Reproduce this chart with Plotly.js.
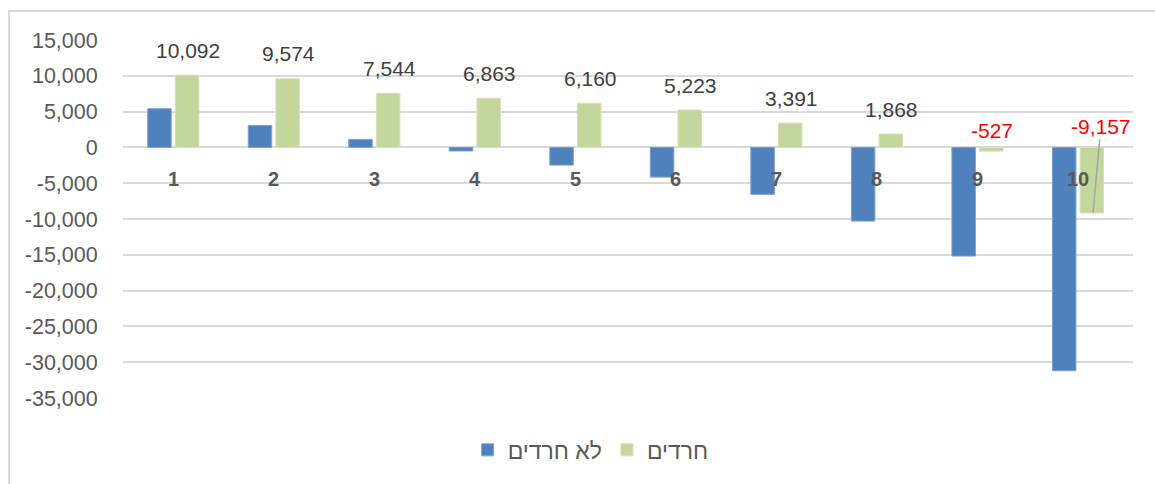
<!DOCTYPE html>
<html>
<head>
<meta charset="utf-8">
<script src="https://cdn.plot.ly/plotly-3.0.1.min.js"></script>
<style>
  html, body { margin: 0; padding: 0; background: #fff; }
  #wrap { position: relative; width: 1155px; height: 484px; overflow: hidden; }
  #chart { width: 1155px; height: 484px; }
  #frame { position: absolute; left: 8px; top: 10px; width: 1170px; height: 490px;
           border: 2px solid #d9d9d9; box-sizing: border-box; pointer-events: none; }
</style>
</head>
<body>
<div id="wrap">
  <div id="chart"></div>
  <div id="frame"></div>
</div>
<script>
// ---- data ----
const categories = ['1','2','3','4','5','6','7','8','9','10'];
const nonHaredi = [5400, 3070, 1120, -500, -2470, -4150, -6560, -10290, -15180, -31190];
const haredi = [10092, 9574, 7544, 6863, 6160, 5223, 3391, 1868, -527, -9157];
const seriesNames = ['לא חרדים', 'חרדים'];
const yTickVals = [15000, 10000, 5000, 0, -5000, -10000, -15000, -20000, -25000, -30000, -35000];
const yTickText = ['15,000', '10,000', '5,000', '0', '-5,000', '-10,000', '-15,000', '-20,000', '-25,000', '-30,000', '-35,000'];

const FONT = 'Liberation Sans, Arial, DejaVu Sans, sans-serif';

const traces = [
  { type: 'bar', x: categories, y: nonHaredi, name: seriesNames[0],
    marker: { color: '#4f81bd', line: { color: '#7ba0cf', width: 1 } }, hoverinfo: 'skip' },
  { type: 'bar', x: categories, y: haredi, name: seriesNames[1],
    marker: { color: '#c3d69b', line: { color: '#d3e2b6', width: 1 } }, hoverinfo: 'skip' }
];

const annotations = [];
// category labels near zero line (x given as category index)
categories.forEach((c, i) => {
  annotations.push({ x: i, y: 0, xref: 'x', yref: 'y', text: '<b>' + c + '</b>',
    showarrow: false, yanchor: 'middle', yshift: -32,
    font: { family: FONT, size: 20, color: '#595959' } });
});
// data labels for haredi series
haredi.forEach((v, i) => {
  const txt = v.toLocaleString('en-US');
  const neg = v < 0;
  const a = { x: i, xref: 'x', yref: 'y', text: txt, xshift: 15,
    font: { family: FONT, size: 21, color: neg ? '#ff0000' : '#404040' } };
  if (!neg) {
    Object.assign(a, { y: v, showarrow: false, yanchor: 'middle', yshift: 25 });
  } else if (Math.abs(v) < 3000) {
    Object.assign(a, { y: 0, showarrow: false, yanchor: 'middle', yshift: 17 });
  } else {
    Object.assign(a, { y: v * 0.99, showarrow: true, arrowhead: 0, arrowwidth: 1.5,
      arrowcolor: '#a6a6a6', ax: 8, ay: -86, standoff: 0 });
  }
  annotations.push(a);
});

const layout = {
  width: 1155, height: 484,
  margin: { l: 123, r: 22, t: 40, b: 86 },
  paper_bgcolor: '#ffffff', plot_bgcolor: '#ffffff',
  barmode: 'group', bargap: 0.45, bargroupgap: 0.15,
  font: { family: FONT, color: '#595959' },
  xaxis: { type: 'category', showticklabels: false, showgrid: false, zeroline: false,
    showline: false, ticks: '', fixedrange: true },
  yaxis: { range: [-35000, 15000], tickvals: yTickVals, ticktext: yTickText,
    showgrid: true, gridcolor: '#d9d9d9', gridwidth: 2,
    zeroline: true, zerolinecolor: '#d9d9d9', zerolinewidth: 2,
    showline: false, ticks: 'outside', ticklen: 20, tickcolor: 'rgba(0,0,0,0)',
    tickfont: { family: FONT, size: 21.5, color: '#595959' }, fixedrange: true },
  showlegend: true,
  legend: { orientation: 'h', x: 0.463, xanchor: 'center', y: -0.145, yanchor: 'middle',
    font: { family: FONT, size: 23, color: '#595959' }, itemgap: 20,
    traceorder: 'normal', bgcolor: 'rgba(0,0,0,0)' },
  annotations: annotations
};

Plotly.newPlot('chart', traces, layout, { displayModeBar: false, staticPlot: true });
</script>
</body>
</html>
